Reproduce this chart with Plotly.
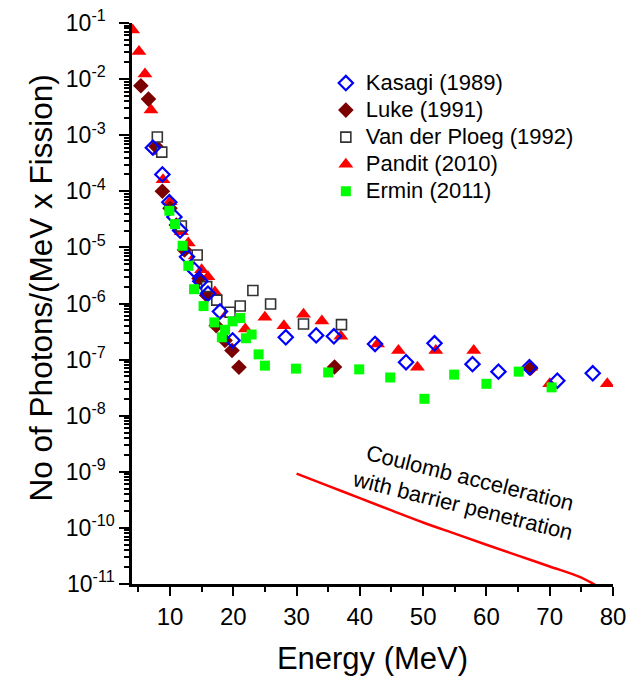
import plotly.graph_objects as go

# ---------------- data ----------------
kasagi_x = [7.3, 8.8, 9.9, 10.7, 11.6, 12.7, 13.8, 14.8, 16.0, 17.9, 19.9, 28.3, 33.1, 35.9,
            42.4, 47.3, 51.8, 57.8, 61.9, 66.8, 71.2, 76.8]
kasagi_y = [6e-4, 2e-4, 6.4e-5, 3.5e-5, 2e-5, 6.8e-6, 4e-6, 2.5e-6, 1.5e-6, 7.2e-7, 2.2e-7,
            2.5e-7, 2.7e-7, 2.6e-7, 1.9e-7, 9e-8, 1.95e-7, 8.3e-8, 6.1e-8, 7.3e-8, 4.2e-8, 5.7e-8]

luke_x = [5.4, 6.6, 7.8, 8.8, 10.0, 11.0, 12.3, 14.6, 15.8, 17.3, 18.7, 19.8, 20.9, 36.0, 67.0]
luke_y = [7.6e-3, 4.4e-3, 6.3e-4, 1e-4, 5e-5, 2.5e-5, 9e-6, 2.8e-6, 1.4e-6, 4e-7, 2.2e-7,
          1.45e-7, 7.3e-8, 7.4e-8, 7e-8]

vdp_x = [8.0, 8.7, 11.8, 14.3, 15.8, 17.4, 19.5, 21.1, 23.1, 25.9, 31.1, 37.1]
vdp_y = [9.3e-4, 5e-4, 2.4e-5, 7.3e-6, 2e-6, 1.15e-6, 7e-7, 9e-7, 1.7e-6, 9.8e-7, 4.3e-7, 4.2e-7]

pandit_x = [4.1, 5.1, 6.05, 7.0, 8.15, 8.9, 10.0, 11.8, 12.9, 14.0, 15.0, 16.0, 17.1, 19.0,
            21.9, 25.0, 28.0, 31.1, 34.0, 37.0, 42.8, 46.1, 49.1, 52.0, 58.0, 67.0, 70.0, 79.1]
pandit_y = [7.5e-2, 3.1e-2, 1.23e-2, 2.8e-3, 5.1e-4, 1.6e-4, 6.5e-5, 1.9e-5, 1.2e-5, 7e-6,
            4e-6, 3e-6, 1.6e-6, 6.5e-7, 3.5e-7, 5.7e-7, 4e-7, 6.4e-7, 4.9e-7, 2.6e-7, 1.9e-7,
            1.45e-7, 7.3e-8, 1.45e-7, 1.45e-7, 7.3e-8, 3.7e-8, 3.7e-8]

ermin_x = [9.9, 10.8, 12.0, 12.9, 13.8, 15.3, 17.0, 18.2, 18.7, 19.9, 21.1, 22.0, 22.9, 24.0,
           25.0, 29.9, 35.0, 39.9, 44.8, 50.2, 54.9, 60.0, 65.1, 70.3]
ermin_y = [4.5e-5, 2.6e-5, 1.07e-5, 4.7e-6, 1.8e-6, 9e-7, 4.6e-7, 2.5e-7, 3.4e-7, 4.8e-7,
           5.5e-7, 2.4e-7, 2.8e-7, 1.24e-7, 7.8e-8, 6.9e-8, 5.9e-8, 6.7e-8, 4.8e-8, 2.0e-8,
           5.4e-8, 3.7e-8, 6.1e-8, 3.2e-8]

coulomb_x = [30, 35, 40, 45, 50, 55, 60, 65, 70, 75, 78]
coulomb_y = [9.3e-10, 5.6e-10, 3.4e-10, 2.05e-10, 1.25e-10, 7.9e-11, 5e-11, 3.2e-11, 2.05e-11,
             1.3e-11, 0.85e-11]

x_ticks = [10, 20, 30, 40, 50, 60, 70, 80]
y_exps = [-1, -2, -3, -4, -5, -6, -7, -8, -9, -10, -11]

FONT = "Arial, Liberation Sans, sans-serif"


def lg(name):
    return '<span style="font-size:22px">%s</span>' % name


fig = go.Figure()

fig.add_trace(go.Scatter(x=coulomb_x, y=coulomb_y, mode="lines", showlegend=False,
                         line=dict(color="#FF0000", width=2.5, shape="spline")))
fig.add_trace(go.Scatter(x=pandit_x, y=pandit_y, mode="markers", name=lg("Pandit (2010)"),
                         legendrank=4,
                         marker=dict(symbol="triangle-up", size=13, color="#FF0000",
                                     line=dict(width=0))))
fig.add_trace(go.Scatter(x=luke_x, y=luke_y, mode="markers", name=lg("Luke (1991)"),
                         legendrank=2,
                         marker=dict(symbol="diamond", size=12, color="#7B0000",
                                     line=dict(width=0))))
fig.add_trace(go.Scatter(x=vdp_x, y=vdp_y, mode="markers", name=lg("Van der Ploeg (1992)"),
                         legendrank=3,
                         marker=dict(symbol="square", size=10, color="white",
                                     line=dict(width=1.6, color="#333333"))))
fig.add_trace(go.Scatter(x=kasagi_x, y=kasagi_y, mode="markers", name=lg("Kasagi (1989)"),
                         legendrank=1,
                         marker=dict(symbol="diamond-open", size=11, color="#0000FF",
                                     line=dict(width=2.2, color="#0000FF"))))
fig.add_trace(go.Scatter(x=ermin_x, y=ermin_y, mode="markers", name=lg("Ermin (2011)"),
                         legendrank=5,
                         marker=dict(symbol="square", size=10, color="#00FF00",
                                     line=dict(width=0))))

minor_x = [5, 15, 25, 35, 45, 55, 65, 75]
minor_y = [m * 10.0 ** e for e in range(-11, -1) for m in range(2, 10)]

# pad single-digit exponents so the "10" bases line up (labels look left aligned)
y_ticktext = ["10<sup>%d%s</sup>" % (e, "\u2007" if e > -10 else "") for e in y_exps]

common_x = dict(range=[4, 80], tickmode="array", tickvals=x_ticks, showgrid=False,
                zeroline=False, showline=True, linecolor="black", linewidth=2.5,
                tickwidth=2, ticklen=9, tickcolor="black", automargin=False,
                minor=dict(tickmode="array", tickvals=minor_x, ticklen=5, tickwidth=1.5,
                           tickcolor="black", showgrid=False))
common_y = dict(type="log", range=[-11, -1], tickmode="array",
                tickvals=[10.0 ** e for e in y_exps],
                ticktext=y_ticktext, automargin=False,
                showgrid=False, zeroline=False, showline=True, linecolor="black",
                linewidth=2.5, tickwidth=2, ticklen=10, tickcolor="black",
                minor=dict(tickmode="array", tickvals=minor_y, ticklen=5, tickwidth=1.5,
                           tickcolor="black", showgrid=False))

fig.update_layout(
    width=640, height=676,
    margin=dict(l=132, r=27, t=23, b=92, autoexpand=False),
    paper_bgcolor="white", plot_bgcolor="white",
    font=dict(family=FONT, color="black"),
    xaxis=dict(common_x, ticks="outside", tickfont=dict(size=24),
               title=dict(text="Energy (MeV)", font=dict(size=31), standoff=20)),
    xaxis2=dict(common_x, overlaying="x", side="top", anchor="y", ticks="inside",
                showticklabels=False),
    yaxis=dict(common_y, ticks="outside", tickfont=dict(size=23)),
    yaxis2=dict(common_y, overlaying="y", side="right", anchor="x", ticks="inside",
                showticklabels=False),
    legend=dict(x=0.403, y=0.926, xanchor="left", yanchor="top",
                bgcolor="rgba(0,0,0,0)", font=dict(size=18.5), itemsizing="trace",
                tracegroupgap=0),
    showlegend=True,
)

fig.add_annotation(x=-0.189, y=0.527, xref="paper", yref="paper",
                   text="No of Photons/(MeV x Fission)", textangle=-90,
                   showarrow=False, font=dict(size=31.5, color="black"),
                   xanchor="center", yanchor="middle")

fig.add_annotation(x=56.8, y=-9.36, xref="x", yref="y",
                   text="Coulomb acceleration<br>with barrier penetration",
                   showarrow=False, textangle=14, font=dict(size=22, color="black"),
                   xanchor="center", yanchor="middle")

fig.write_html("out.html")
